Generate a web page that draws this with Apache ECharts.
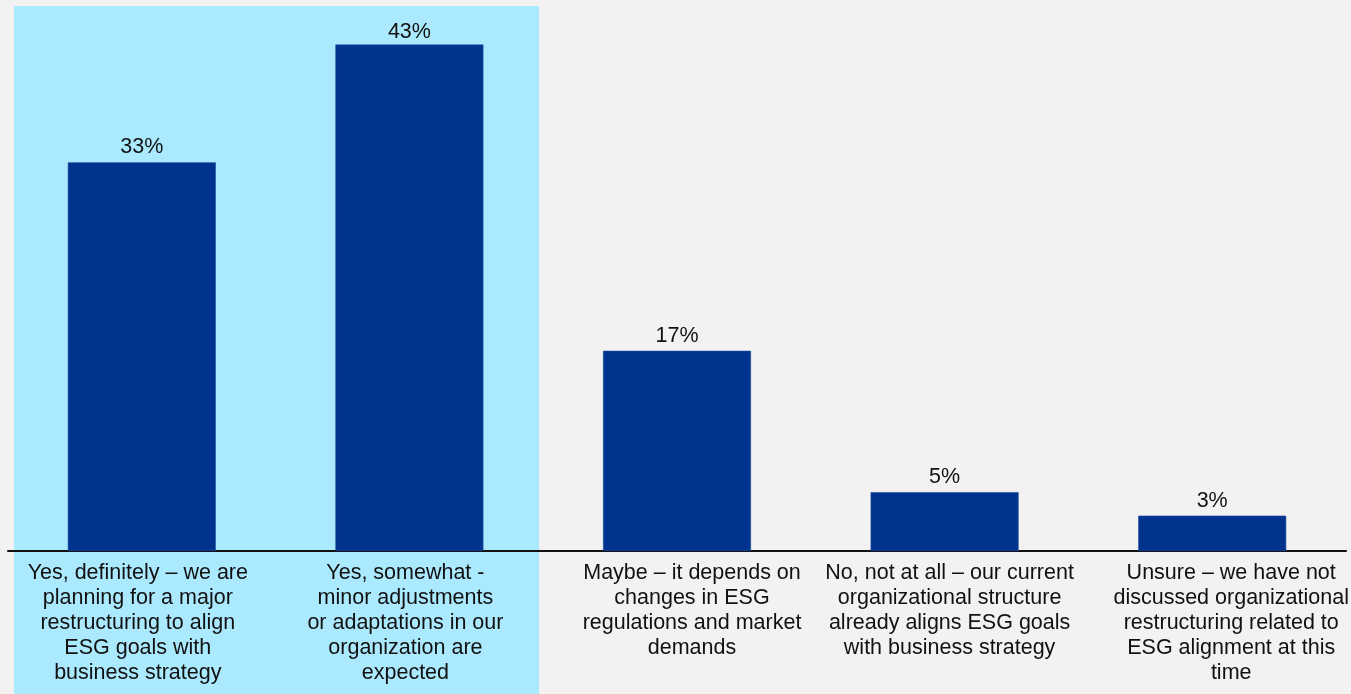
<!DOCTYPE html>
<html>
<head>
<meta charset="utf-8">
<style>
  html, body { margin: 0; padding: 0; background: #f2f2f2; }
  #chart { width: 1351px; height: 694px; }
</style>
<script src="https://cdn.jsdelivr.net/npm/echarts@6/dist/echarts.min.js"></script>
</head>
<body>
<div id="chart"></div>
<script>
// Survey answers (one line break per wrapped label line)
const categories = [
  'Yes, definitely – we are\nplanning for a major\nrestructuring to align\nESG goals with\nbusiness strategy',
  'Yes, somewhat -\nminor adjustments\nor adaptations in our\norganization are\nexpected',
  'Maybe – it depends on\nchanges in ESG\nregulations and market\ndemands',
  'No, not at all – our current\norganizational structure\nalready aligns ESG goals\nwith business strategy',
  'Unsure – we have not\ndiscussed organizational\nrestructuring related to\nESG alignment at this\ntime'
];
// Share of respondents, percent
const shares = [33, 43, 17, 5, 3];

// Horizontal nudge (px) of each answer's text block relative to its bar
const labelShift = [-4, -4, 15, 5, 19];

const axisData = categories.map((name, i) => {
  const s = labelShift[i];
  return {
    value: name,
    textStyle: { padding: s >= 0 ? [0, 0, 0, 2 * s] : [0, -2 * s, 0, 0] }
  };
});

// The tallest bar sits close to the top edge, so its label hugs it a bit more
const barData = shares.map((v, i) => (i === 1 ? { value: v, label: { distance: 1 } } : v));

const chart = echarts.init(document.getElementById('chart'));
chart.setOption({
  backgroundColor: '#f2f2f2',
  animation: false,
  textStyle: { fontFamily: 'Liberation Sans, Arial, sans-serif' },
  graphic: [{
    type: 'rect',
    z: -10,
    silent: true,
    shape: { x: 14, y: 6, width: 525, height: 688 },
    style: { fill: '#abe9fe' }
  }],
  grid: { left: 8, right: 5, top: 21, bottom: 143, containLabel: false, outerBoundsMode: 'none' },
  xAxis: {
    type: 'category',
    data: axisData,
    axisLine: { show: true, lineStyle: { color: '#111111', width: 2 } },
    axisTick: { show: false },
    axisLabel: {
      interval: 0,
      margin: 10,
      fontSize: 21.5,
      lineHeight: 25,
      color: '#111111',
      align: 'center',
      verticalAlign: 'top'
    }
  },
  yAxis: {
    type: 'value',
    min: 0,
    max: 45,
    show: false,
    splitLine: { show: false }
  },
  series: [{
    type: 'bar',
    data: barData,
    barWidth: 148,
    itemStyle: { color: '#00338d', borderColor: '#1d4f9e', borderWidth: 0.6 },
    label: {
      show: true,
      position: 'top',
      distance: 4,
      formatter: '{c}%',
      fontSize: 21.5,
      color: '#111111'
    }
  }]
});
</script>
</body>
</html>
